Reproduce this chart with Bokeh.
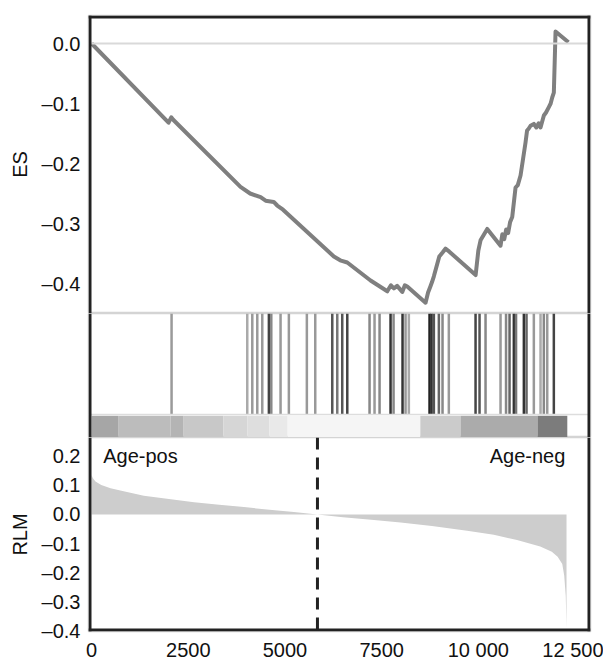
from bokeh.plotting import figure
from bokeh.layouts import column
from bokeh.models import LinearAxis, FixedTicker, Span, Range1d, Label
from bokeh.embed import file_html
from bokeh.resources import INLINE

# ---------------- data ----------------
es_rank = [0, 1990, 2060, 2110, 3850, 4100, 4370, 4500, 4710, 4800, 4950, 6264,
           6450, 6611, 7213, 7645, 7740, 7817, 7900, 8033, 8100, 8162, 8635, 8700,
           8760, 8800, 8850, 8990, 9080, 9150, 9250, 9930, 10000, 10057, 10230,
           10574, 10620, 10670, 10720, 10770, 10820, 10876, 10962, 11020, 11091,
           11150, 11220, 11260, 11300, 11350, 11435, 11500, 11560, 11608, 11694,
           11750, 11823, 11870, 11910, 11952, 11996, 12330]
es_value = [0.0, -0.132, -0.123, -0.127, -0.239, -0.250, -0.256, -0.262, -0.264,
            -0.270, -0.277, -0.355, -0.362, -0.365, -0.395, -0.413, -0.403, -0.408,
            -0.404, -0.414, -0.403, -0.405, -0.432, -0.415, -0.405, -0.398, -0.388,
            -0.355, -0.348, -0.342, -0.347, -0.386, -0.345, -0.328, -0.309, -0.337,
            -0.318, -0.326, -0.310, -0.316, -0.298, -0.289, -0.240, -0.236, -0.220,
            -0.195, -0.165, -0.145, -0.142, -0.137, -0.134, -0.140, -0.133, -0.140,
            -0.120, -0.115, -0.106, -0.100, -0.090, -0.082, 0.020, 0.002]

hit_rank = [2068, 4025, 4155, 4284, 4413, 4584, 4646, 4886, 5101, 5566, 5783,
            6223, 6352, 6481, 6611, 7187, 7316, 7446, 7730, 7808, 8040, 8118, 8203,
            8738, 8790, 8850, 8979, 9074, 9237, 9928, 10031, 10186, 10574, 10716,
            10807, 10918, 10975, 11177, 11246, 11435, 11608, 11693, 11781, 11952]
hit_shade = ["#9a9a9a", "#aaaaaa", "#999999", "#999999", "#999999", "#444444",
             "#888888", "#999999", "#999999", "#999999", "#999999", "#555555",
             "#777777", "#555555", "#444444", "#888888", "#999999", "#888888",
             "#333333", "#888888", "#333333", "#999999", "#aaaaaa", "#222222",
             "#333333", "#555555", "#666666", "#888888", "#999999", "#444444",
             "#555555", "#888888", "#999999", "#888888", "#666666", "#333333",
             "#777777", "#333333", "#666666", "#999999", "#aaaaaa", "#888888",
             "#999999", "#444444"]

strip_start = [0, 700, 2040, 2380, 3410, 4030, 4600, 5070, 8500, 9540, 11530]
strip_end = [700, 2040, 2380, 3410, 4030, 4600, 5070, 8500, 9540, 11530, 12300]
strip_shade = ["#a6a6a6", "#bcbcbc", "#b4b4b4", "#c8c8c8", "#d6d6d6", "#dedede",
               "#e9e9e9", "#f5f5f5", "#cbcbcb", "#ababab", "#7c7c7c"]

rlm_rank = [0, 30, 100, 250, 490, 800, 1350, 2000, 2650, 3300, 3940, 4600, 5230,
            5840, 6500, 7300, 7990, 8800, 9710, 10400, 11000, 11600, 11900, 12050,
            12170, 12220, 12260, 12280]
rlm_value = [0.135, 0.125, 0.113, 0.101, 0.090, 0.080, 0.064, 0.053, 0.042, 0.033,
             0.025, 0.016, 0.008, 0.0, -0.010, -0.019, -0.028, -0.040, -0.056,
             -0.070, -0.088, -0.110, -0.128, -0.145, -0.170, -0.210, -0.280, -0.390]

zero_cross = 5840
pos_label = "Age-pos"
neg_label = "Age-neg"

x_ticks = [0, 2500, 5000, 7500, 10000, 12500]
x_tick_labels = ["0", "2500", "5000", "7500", "10 000", "12 500"]
es_ticks = [0.0, -0.1, -0.2, -0.3, -0.4]
es_tick_labels = ["0.0", "\u20130.1", "\u20130.2", "\u20130.3", "\u20130.4"]
rlm_ticks = [0.2, 0.1, 0.0, -0.1, -0.2, -0.3, -0.4]
rlm_tick_labels = ["0.2", "0.1", "0.0", "\u20130.1", "\u20130.2", "\u20130.3", "\u20130.4"]

# ---------------- style ----------------
FONT = "Liberation Sans"
FS = "20px"
DARK = "#222222"
W = 603
BL, BR = 88, 13
FRAME_W = W - BL - BR
X0, X1 = -80, 12900
x_range = Range1d(X0, X1)
XPX = (X1 - X0) / FRAME_W  # data units per pixel


def base(height, y_range, top, bottom):
    p = figure(width=W, height=height, x_range=x_range, y_range=y_range,
               output_backend="svg", toolbar_location=None,
               x_axis_location=None, y_axis_location=None,
               min_border_left=BL, min_border_right=BR,
               min_border_top=top, min_border_bottom=bottom,
               background_fill_color="white", border_fill_color="white")
    p.grid.visible = False
    p.outline_line_color = "#d4d4d4"
    p.outline_line_width = 1.5
    return p


def frame_axis(p, side, ticks, labels, axis_label=None):
    ax = LinearAxis(ticker=FixedTicker(ticks=ticks))
    ax.axis_line_color = None
    ax.minor_tick_line_color = None
    ax.major_tick_line_color = None
    ax.major_tick_out = 3
    ax.major_tick_in = 0
    ax.major_label_overrides = {t: l for t, l in zip(ticks, labels)}
    ax.major_label_standoff = 5
    ax.major_label_text_font = FONT
    ax.major_label_text_font_size = FS
    ax.major_label_text_color = "#111111"
    if axis_label:
        ax.axis_label = axis_label
        ax.axis_label_text_font = FONT
        ax.axis_label_text_font_size = FS
        ax.axis_label_text_font_style = "normal"
        ax.axis_label_text_color = "#111111"
        ax.axis_label_standoff = 8
    p.add_layout(ax, side)
    return ax


def border(p, dim, loc, width=3):
    p.add_layout(Span(location=loc, dimension=dim, line_color=DARK, line_width=width))


# ---------------- ES panel ----------------
ES0, ES1, ES_H = -0.45, 0.0467, 298
p1 = base(15 + ES_H, Range1d(ES0, ES1), 15, 0)
frame_axis(p1, "left", es_ticks, es_tick_labels, "ES")
p1.add_layout(Span(location=0, dimension="width", line_color="#d9d9d9", line_width=2))
p1.line(es_rank, es_value, line_color="#7f7f7f", line_width=4, line_join="round")
border(p1, "height", X0 + 1.5 * XPX)
border(p1, "height", X1 - 1.5 * XPX)
border(p1, "width", ES1 - 1.5 * (ES1 - ES0) / ES_H)

# ---------------- hits panel ----------------
p2 = base(124, Range1d(0, 1), 0, 0)
p2.quad(left=strip_start, right=strip_end, bottom=0.0, top=0.175,
        fill_color=strip_shade, line_color=None)
p2.segment(x0=hit_rank, y0=0.19, x1=hit_rank, y1=1.0,
           line_color=hit_shade, line_width=2.5)
p2.add_layout(Span(location=0.185, dimension="width", line_color="#dddddd", line_width=1.5))
border(p2, "height", X0 + 1.5 * XPX)
border(p2, "height", X1 - 1.5 * XPX)

# ---------------- RLM panel ----------------
R0, R1, R_H = -0.402, 0.264, 196
p3 = base(R_H + 30, Range1d(R0, R1), 0, 30)
frame_axis(p3, "left", rlm_ticks, rlm_tick_labels, "RLM")
xb = frame_axis(p3, "below", x_ticks, x_tick_labels)
xb.major_label_standoff = 4
p3.varea(x=rlm_rank, y1=[0.0] * len(rlm_rank), y2=rlm_value, fill_color="#cdcdcd")
p3.add_layout(Span(location=zero_cross, dimension="height", line_color=DARK,
                   line_width=3, line_dash="12 8"))
p3.add_layout(Label(x=300, y=0.2, text=pos_label, text_font=FONT, text_font_size=FS,
                    text_baseline="middle", text_align="left", text_color="#111111"))
p3.add_layout(Label(x=12250, y=0.2, text=neg_label, text_font=FONT, text_font_size=FS,
                    text_baseline="middle", text_align="right", text_color="#111111"))
border(p3, "height", X0 + 1.5 * XPX)
border(p3, "height", X1 - 1.5 * XPX)
border(p3, "width", R0 + 1.5 * (R1 - R0) / R_H)

layout = column(p1, p2, p3, spacing=0)
open("out.html", "w").write(file_html(layout, INLINE))
